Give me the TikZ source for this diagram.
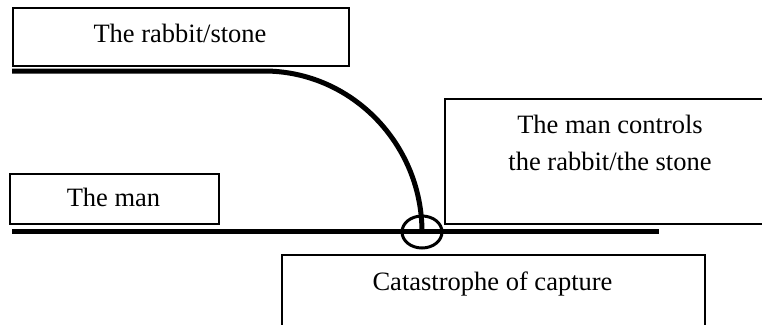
\documentclass[tikz,border=0pt]{standalone}
\usepackage{fontspec}
\setmainfont{Liberation Serif}
\usetikzlibrary{shapes.geometric}

\begin{document}
\begin{tikzpicture}[x=1pt,y=-1pt,
  box/.style={draw,line width=1.6pt,inner sep=0pt,anchor=north west},
  lbl/.style={inner sep=0pt,font=\fontsize{26.5}{37}\selectfont},
  bar/.style={line width=5pt}]
\path[use as bounding box] (0,0) rectangle (762,324);
\clip (0,0) rectangle (762,324);
\node[box,minimum width=336,minimum height=58] (rabbitbox) at (12,7) {};
\node[lbl,anchor=base] (rabbit) at (180,42) {The rabbit/stone};
\node[box,minimum width=209,minimum height=50] (manbox) at (9,173) {};
\node[lbl,anchor=base] (man) at (113.5,206) {The man};
\node[box,minimum width=336,minimum height=125] (ctrlbox) at (444,98) {};
\node[lbl,align=center] (ctrl) at (610,143) {The man controls\\the rabbit/the stone};
\node[box,minimum width=423,minimum height=100] (catbox) at (281,254) {};
\node[lbl,anchor=base] (cat) at (492.5,290) {Catastrophe of capture};
\coordinate (rabbitstart) at (12,71);
\coordinate (rabbitbend) at (264,71);
\coordinate (manstart) at (12,231);
\coordinate (manend) at (659,231);
\node[draw,ellipse,line width=3pt,minimum width=40,minimum height=32,inner sep=0pt] (meet) at (422,232) {};
\draw[bar] (manstart) -- (manend);
\draw[bar] (rabbitstart) -- (rabbitbend) .. controls (351.3,71) and (422,143.7) .. (meet.center);
\end{tikzpicture}
\end{document}
